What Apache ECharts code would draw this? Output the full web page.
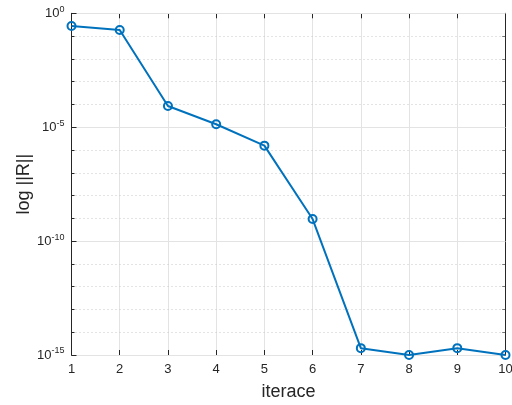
<!DOCTYPE html>
<html><head><meta charset="utf-8">
<script src="https://cdn.jsdelivr.net/npm/echarts@6/dist/echarts.min.js"></script>
<style>html,body{margin:0;padding:0;background:#fff}#c{width:512px;height:405px}</style>
</head><body><div id="c"></div>
<script>
const iterations = [1, 2, 3, 4, 5, 6, 7, 8, 9, 10];
const residual = [0.275, 0.186, 8.5e-5, 1.35e-5, 1.55e-6, 9.3e-10, 2.0e-15, 1.0e-15, 2.0e-15, 1.0e-15];
const xLabel = 'iterace';
const yLabel = 'log ||R||';

const FONT = '"Liberation Sans", Arial, sans-serif';
const AX = '#262626';
const chart = echarts.init(document.getElementById('c'), null, {renderer: 'canvas'});
const supFmt = v => { const e = Math.round(Math.log10(v)); return '{b|10}{s|' + e + '}'; };
const rich = {
  b: {fontSize: 13, fontFamily: FONT, color: AX},
  s: {fontSize: 9, fontFamily: FONT, color: AX, padding: [0, 0, 8, 0]}
};
const grid = {left: 71.5, right: 6.5, top: 13.3, bottom: 50, containLabel: false, outerBoundsMode: 'none'};
const yBase = {type: 'log', logBase: 10, min: 1e-15, max: 1, gridIndex: 0};
const xBase = {type: 'value', min: 1, max: 10, interval: 1};
chart.setOption({
  animation: false,
  grid: grid,
  xAxis: [
    Object.assign({}, xBase, {
      position: 'bottom',
      name: xLabel, nameLocation: 'middle', nameGap: 28, nameMoveOverlap: false,
      nameTextStyle: {fontSize: 18, fontFamily: FONT, color: AX},
      axisLine: {show: true, lineStyle: {color: AX, width: 1}},
      axisTick: {show: true, inside: true, length: 5, lineStyle: {color: AX}},
      axisLabel: {fontSize: 13, fontFamily: FONT, color: AX, margin: 8},
      splitLine: {show: true, lineStyle: {color: '#e3e3e3', width: 1}}
    }),
    Object.assign({}, xBase, {
      position: 'top',
      axisLine: {show: true, lineStyle: {color: AX, width: 1}},
      axisTick: {show: true, inside: true, length: 5, lineStyle: {color: AX}},
      axisLabel: {show: false}, splitLine: {show: false}
    })
  ],
  yAxis: [
    Object.assign({}, yBase, {
      position: 'left', interval: 5,
      name: yLabel, nameLocation: 'middle', nameGap: 38, nameRotate: 90, nameMoveOverlap: false,
      nameTextStyle: {fontSize: 18, fontFamily: FONT, color: AX},
      axisLine: {show: true, lineStyle: {color: AX, width: 1}},
      axisTick: {show: true, inside: true, length: 5, lineStyle: {color: AX}},
      axisLabel: {formatter: supFmt, rich: rich, margin: 7},
      splitLine: {show: true, lineStyle: {color: '#e3e3e3', width: 1}},
      z: 2
    }),
    Object.assign({}, yBase, {
      position: 'right', interval: 5,
      axisLine: {show: true, lineStyle: {color: AX, width: 1}},
      axisTick: {show: true, inside: true, length: 5, lineStyle: {color: AX}},
      axisLabel: {show: false}, splitLine: {show: false}
    }),
    Object.assign({}, yBase, {
      position: 'left', interval: 1,
      axisLine: {show: false},
      axisTick: {show: true, inside: true, length: 3, lineStyle: {color: AX}},
      axisLabel: {show: false},
      splitLine: {show: true, lineStyle: {color: '#c8c8c8', width: 1, type: [1, 3]}},
      z: 1
    }),
    Object.assign({}, yBase, {
      position: 'right', interval: 1,
      axisLine: {show: false},
      axisTick: {show: true, inside: true, length: 3, lineStyle: {color: AX}},
      axisLabel: {show: false}, splitLine: {show: false}
    })
  ],
  series: [{
    type: 'line',
    xAxisIndex: 0, yAxisIndex: 0,
    data: iterations.map((x, i) => [x, residual[i]]),
    symbol: 'circle', symbolSize: 8,
    lineStyle: {color: '#0072BD', width: 2},
    itemStyle: {color: 'rgba(0,0,0,0)', borderColor: '#0072BD', borderWidth: 2},
    clip: false, z: 10
  }]
});
</script></body></html>
